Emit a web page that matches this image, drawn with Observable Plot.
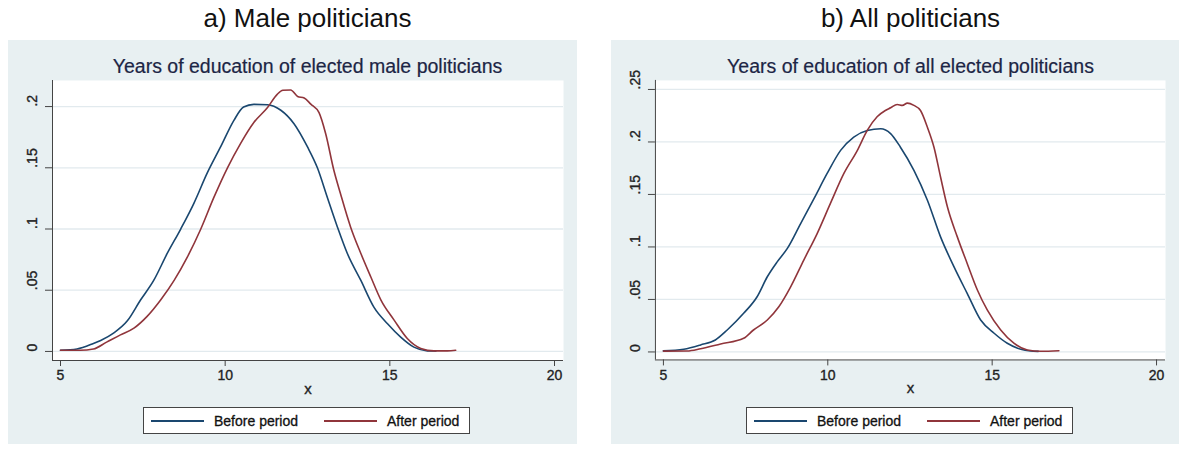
<!DOCTYPE html>
<html><head><meta charset="utf-8">
<script src="https://cdn.jsdelivr.net/npm/d3@7"></script>
<script src="https://cdn.jsdelivr.net/npm/@observablehq/plot@0.6"></script>
<style>
body{margin:0;background:#fff;font-family:"Liberation Sans",Arial,Helvetica,sans-serif;}
#root{position:relative;width:1179px;height:451px;overflow:hidden;background:#fff;}
.outer{position:absolute;top:5px;width:400px;font-size:26px;color:#111;text-align:center;line-height:26px;white-space:nowrap;}
.box{position:absolute;top:40px;height:404px;background:#e8f0f2;}
.inner{position:absolute;top:57px;width:520px;font-size:19.5px;color:#1c2545;text-align:center;line-height:19px;white-space:nowrap;-webkit-text-stroke:0.2px #1c2545;}
.svgwrap{position:absolute;top:40px;}
.svgwrap svg text{stroke:#222;stroke-width:0.35px;}
.legend{position:absolute;top:407px;width:327px;height:27px;background:#fff;border:1px solid #444;box-sizing:border-box;}
.legend .ln{position:absolute;top:12px;height:1.6px;width:53px;}
.legend .lt{position:absolute;top:5px;font-size:14px;line-height:16px;color:#111;white-space:nowrap;-webkit-text-stroke:0.3px #111;}
</style>
</head><body>
<div id="root"></div>
<script>
// ---- data ----
const panelTitles = ["a) Male politicians", "b) All politicians"];
const innerTitles = ["Years of education of elected male politicians", "Years of education of all elected politicians"];
const seriesNames = ["Before period", "After period"];
const xTicks = [5, 10, 15, 20];
const xLabel = "x";
const maleYTicks = [0, 0.05, 0.1, 0.15, 0.2];
const maleYLabels = ["0", ".05", ".1", ".15", ".2"];
const allYTicks = [0, 0.05, 0.1, 0.15, 0.2, 0.25];
const allYLabels = ["0", ".05", ".1", ".15", ".2", ".25"];

const maleBeforeX = [5.0,5.5,6.0,6.22,6.61,7.03,7.43,7.83,8.24,8.65,9.05,9.46,9.86,10.27,10.56,10.87,11.28,11.69,12.09,12.5,12.8,13.1,13.41,13.71,14.12,14.52,14.93,15.33,15.73,16.14,16.4];
const maleBeforeY = [0.001,0.002,0.0065,0.009,0.015,0.025,0.042,0.058,0.080,0.100,0.121,0.146,0.167,0.189,0.1996,0.2018,0.2015,0.197,0.186,0.167,0.150,0.126,0.1015,0.080,0.058,0.036,0.0226,0.0117,0.0035,0.0005,0.0003];
const maleAfterX = [5.0,5.6,6.0,6.4,6.82,7.23,7.63,8.04,8.45,8.85,9.26,9.66,10.07,10.47,10.87,11.28,11.58,11.75,11.99,12.2,12.4,12.6,12.85,13.05,13.3,13.5,13.81,14.12,14.42,14.73,15.13,15.53,15.94,16.34,16.75,17.0];
const maleAfterY = [0.001,0.001,0.002,0.0076,0.0135,0.019,0.0286,0.042,0.058,0.077,0.100,0.126,0.150,0.170,0.187,0.199,0.210,0.2133,0.2135,0.2083,0.207,0.202,0.195,0.178,0.148,0.129,0.1015,0.080,0.061,0.042,0.0256,0.0106,0.0025,0.0005,0.0005,0.001];

const allBeforeX = [5.0,5.62,6.13,6.58,6.94,7.44,7.85,8.16,8.46,8.77,9.17,9.58,9.98,10.39,10.79,11.2,11.61,11.91,12.21,12.62,13.03,13.43,13.84,14.24,14.65,15.06,15.46,15.87,16.17,16.4];
const allBeforeY = [0.001,0.0026,0.0067,0.0114,0.0209,0.0368,0.0526,0.0716,0.0858,0.0986,0.122,0.146,0.170,0.192,0.2047,0.211,0.2126,0.208,0.195,0.173,0.1445,0.1096,0.081,0.0558,0.0304,0.0178,0.0083,0.0026,0.0009,0.0005];
const allAfterX = [5.0,5.72,6.13,6.74,7.44,7.74,8.16,8.51,8.87,9.27,9.68,10.08,10.49,10.9,11.2,11.5,11.75,11.91,12.11,12.27,12.42,12.62,12.82,13.03,13.23,13.43,13.64,13.94,14.24,14.55,14.85,15.26,15.66,16.07,16.48,17.03];
const allAfterY = [0.0008,0.0009,0.003,0.0076,0.013,0.0209,0.0304,0.043,0.062,0.0875,0.113,0.1415,0.170,0.192,0.211,0.224,0.230,0.2325,0.2357,0.2348,0.237,0.2348,0.230,0.214,0.195,0.1666,0.138,0.1096,0.0843,0.059,0.040,0.0209,0.0083,0.0019,0.0006,0.0012];

const colors = ["#1a476f", "#90353b"];

// ---- build ----
const toRows = (xs, ys) => xs.map((x, i) => ({x, y: ys[i]}));
const root = document.getElementById("root");
const FONT = '"Liberation Sans", Arial, Helvetica, sans-serif';

function panel(offset, idx, before, after, yTicks, yLabels, yDomain) {
  const box = document.createElement("div");
  box.className = "box";
  box.style.left = (8 + offset) + "px";
  box.style.width = (569) + "px";
  root.appendChild(box);

  const ot = document.createElement("div");
  ot.className = "outer";
  ot.style.left = (307.5 + offset - 200) + "px";
  ot.textContent = panelTitles[idx];
  root.appendChild(ot);

  const it = document.createElement("div");
  it.className = "inner";
  it.style.left = (307.5 + offset - 260) + "px";
  it.textContent = innerTitles[idx];
  root.appendChild(it);

  const xDomain = [4.757, 20.273];
  const chart = Plot.plot({
    width: 569, height: 365,
    marginTop: 40, marginLeft: 44, marginRight: 14, marginBottom: 45,
    x: {domain: xDomain},
    y: {domain: yDomain},
    style: {background: "transparent", fontFamily: FONT, fontSize: "14px", color: "#222", overflow: "visible"},
    marks: [
      Plot.frame({fill: "white", stroke: null}),
      Plot.ruleY(yTicks, {stroke: "#e2eaee", strokeWidth: 1.3}),
      Plot.ruleX([xDomain[0]], {stroke: "#444", strokeWidth: 1}),
      Plot.ruleY([yDomain[0]], {stroke: "#444", strokeWidth: 1}),
      Plot.axisX({ticks: xTicks, tickSize: 6, tickPadding: 4, label: null, fontSize: 14, stroke: "#444"}),
      Plot.axisY({ticks: yTicks, tickSize: 7, tickFormat: () => "", label: null, stroke: "#444"}),
      Plot.text(yTicks, {y: d => d, text: (d, i) => yLabels[i], frameAnchor: "left", dx: -20, rotate: -90, fontSize: 14, fill: "#222"}),
      Plot.text([xLabel], {text: d => d, frameAnchor: "bottom", dy: 33, fontSize: 15, fill: "#222"}),
      Plot.line(before, {x: "x", y: "y", stroke: colors[0], strokeWidth: 1.6, curve: "monotone-x"}),
      Plot.line(after, {x: "x", y: "y", stroke: colors[1], strokeWidth: 1.6, curve: "monotone-x"})
    ]
  });
  const wrap = document.createElement("div");
  wrap.className = "svgwrap";
  wrap.style.left = (8 + offset) + "px";
  wrap.appendChild(chart);
  root.appendChild(wrap);

  const lg = document.createElement("div");
  lg.className = "legend";
  lg.style.left = (143 + offset) + "px";
  const items = [[7, 70], [180, 243]];
  items.forEach(([lx, tx], k) => {
    const l = document.createElement("div");
    l.className = "ln"; l.style.left = lx + "px"; l.style.background = colors[k];
    const t = document.createElement("div");
    t.className = "lt"; t.style.left = tx + "px"; t.textContent = seriesNames[k];
    lg.appendChild(l); lg.appendChild(t);
  });
  root.appendChild(lg);
}

panel(0, 0, toRows(maleBeforeX, maleBeforeY), toRows(maleAfterX, maleAfterY), maleYTicks, maleYLabels, [-0.0074, 0.2213]);
panel(603, 1, toRows(allBeforeX, allBeforeY), toRows(allAfterX, allAfterY), allYTicks, allYLabels, [-0.0076, 0.2586]);
</script>
</body></html>
